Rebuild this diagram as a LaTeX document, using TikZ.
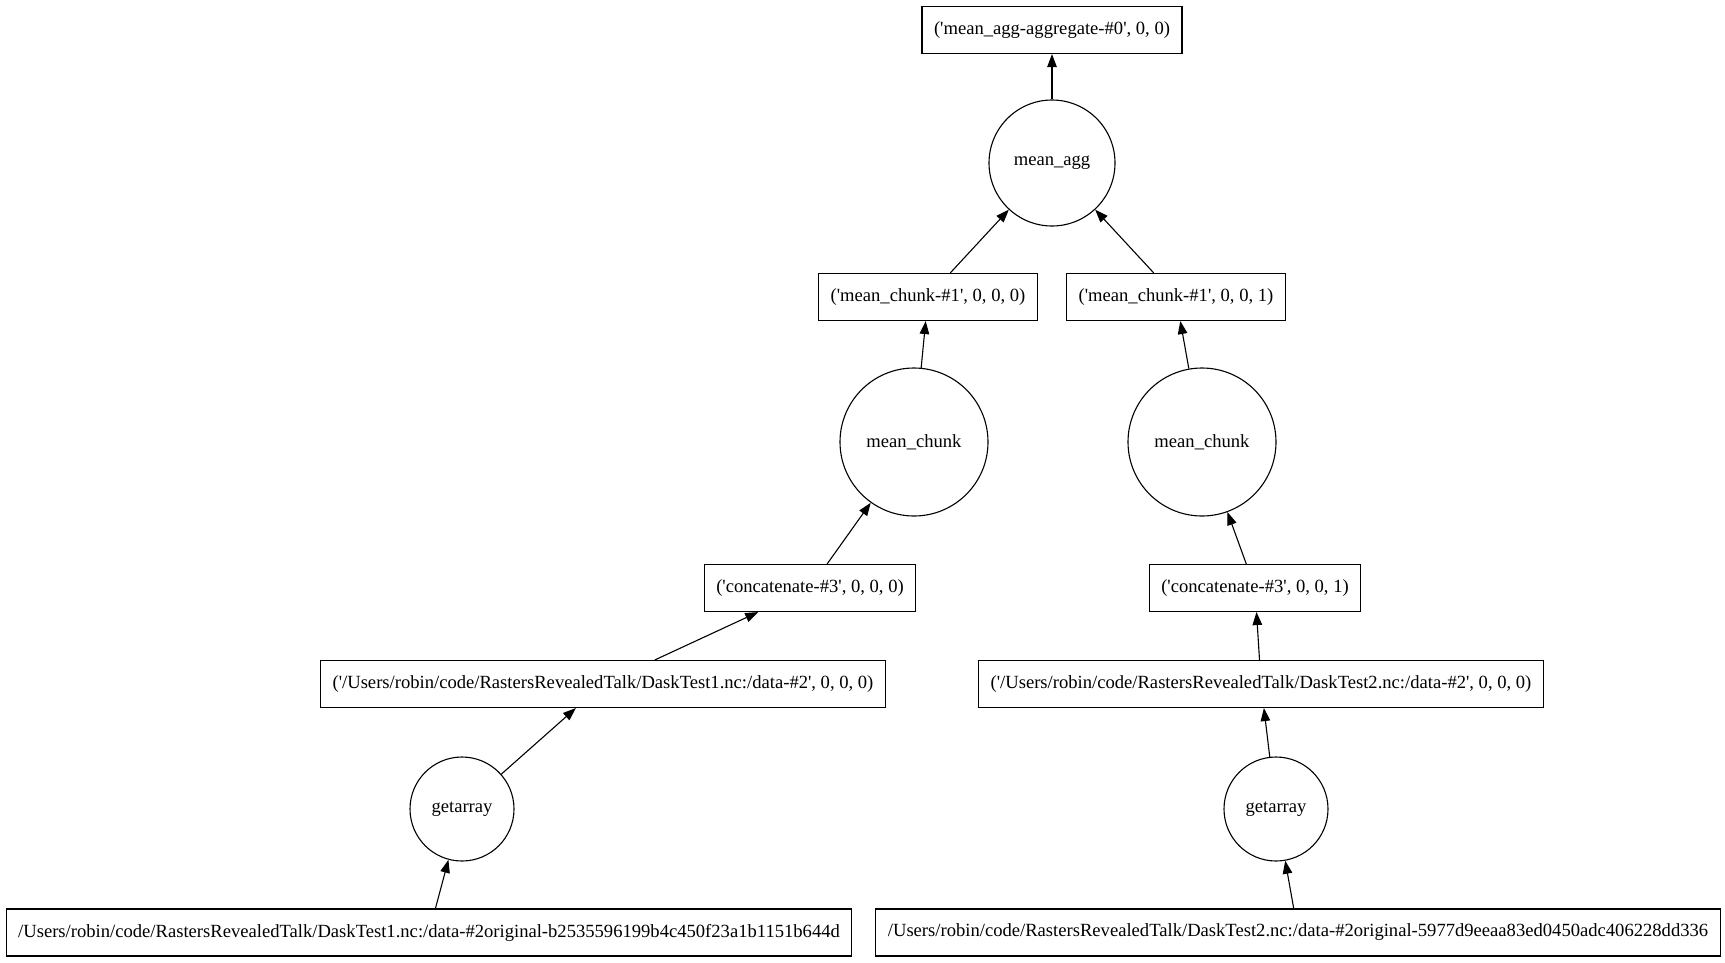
\documentclass[tikz,border=0pt]{standalone}
\usepackage{fontspec}
\setmainfont{Liberation Serif}
\usetikzlibrary{arrows.meta}
\newcommand{\sq}{\textquotesingle}

\begin{document}
\begin{tikzpicture}
	[x=1pt,y=-1pt,>={Triangle[length=13pt,width=9.5pt]},line width=1.1pt,
	 box/.style={draw,rectangle,minimum height=47pt,inner xsep=12pt,font=\fontsize{18.6}{22}\selectfont},
	 task/.style={draw,circle,inner sep=0pt,font=\fontsize{18.6}{22}\selectfont},]
	\useasboundingbox (0,0) rectangle (1725,962);
	\node (aggkey) at (1052,30)[box] {(\sq mean\_agg-aggregate-\#0\sq, 0, 0)};
	\node (agg) at (1052,163)[task,minimum size=126pt] {mean\_agg};
	\node (chunkA) at (928,297)[box] {(\sq mean\_chunk-\#1\sq, 0, 0, 0)};
	\node (chunkB) at (1176,297)[box] {(\sq mean\_chunk-\#1\sq, 0, 0, 1)};
	\node (meanA) at (914,442)[task,minimum size=148pt] {mean\_chunk};
	\node (meanB) at (1202,442)[task,minimum size=148pt] {mean\_chunk};
	\node (catA) at (810,588)[box] {(\sq concatenate-\#3\sq, 0, 0, 0)};
	\node (catB) at (1255,588)[box] {(\sq concatenate-\#3\sq, 0, 0, 1)};
	\node (dataA) at (603,684)[box] {(\sq/Users/robin/code/RastersRevealedTalk/DaskTest1.nc:/data-\#2\sq, 0, 0, 0)};
	\node (dataB) at (1261,684)[box] {(\sq/Users/robin/code/RastersRevealedTalk/DaskTest2.nc:/data-\#2\sq, 0, 0, 0)};
	\node (getA) at (462,809)[task,minimum size=104pt] {getarray};
	\node (getB) at (1276,809)[task,minimum size=104pt] {getarray};
	\node (srcA) at (429,932.5)[box] {/Users/robin/code/RastersRevealedTalk/DaskTest1.nc:/data-\#2original-b2535596199b4c450f23a1b1151b644d};
	\node (srcB) at (1298,932.5)[box] {/Users/robin/code/RastersRevealedTalk/DaskTest2.nc:/data-\#2original-5977d9eeaa83ed0450adc406228dd336};
	\draw[->] (agg) -- (aggkey);
	\draw[->] (chunkA) -- (agg);
	\draw[->] (chunkB) -- (agg);
	\draw[->] (meanA) -- (chunkA);
	\draw[->] (meanB) -- (chunkB);
	\draw[->] (catA) -- (meanA);
	\draw[->] (catB) -- (meanB);
	\draw[->] (dataA) -- (catA);
	\draw[->] (dataB) -- (catB);
	\draw[->] (getA) -- (dataA);
	\draw[->] (getB) -- (dataB);
	\draw[->] (srcA) -- (getA);
	\draw[->] (srcB) -- (getB);
\end{tikzpicture}
\end{document}
